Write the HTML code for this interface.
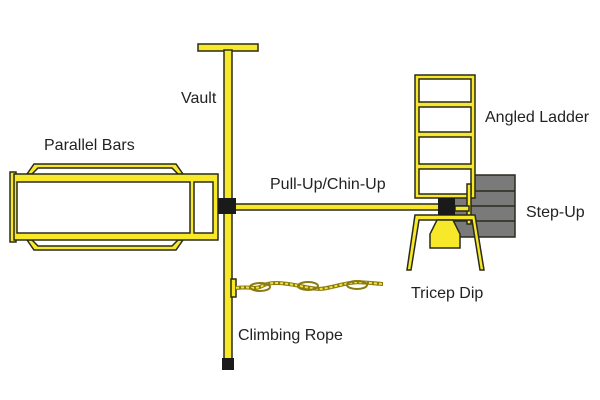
<!DOCTYPE html><html><head><style>body{margin:0;background:#fff}svg{display:block}text{font-family:"Liberation Sans",sans-serif;font-size:16px;fill:#222}</style></head><body>
<svg width="600" height="400" viewBox="0 0 600 400">
<g fill="#f7e92a" stroke="#2a2a1a" stroke-width="1.5">
<polygon points="27,174 34,164 176,164 183,174 178,174 172,168 38,168 32,174"/>
<polygon points="27,240 34,250 176,250 183,240 178,240 172,246 38,246 32,240"/>
<rect x="10" y="172" width="6" height="70"/>
<path d="M14,174 H218 V240 H14 Z M17,182 V233 H190 V182 Z M194,182 V233 H213 V182 Z" fill-rule="evenodd"/>
<rect x="198" y="44" width="60" height="7"/>
<rect x="224" y="50" width="8" height="310"/>
<rect x="234" y="204" width="206" height="6"/>
<rect x="454" y="175" width="61" height="62" fill="#7a7a7a"/>
<line x1="454" y1="191" x2="515" y2="191"/><line x1="454" y1="206" x2="515" y2="206"/><line x1="454" y1="221" x2="515" y2="221"/>
<rect x="417" y="77" width="56" height="119" fill="#fff" stroke="none"/>
<path d="M415,75 H475 V198 H415 Z M419,79 V102 H471 V79 Z M419,107 V132 H471 V107 Z M419,137 V164 H471 V137 Z M419,169 V194 H471 V169 Z" fill-rule="evenodd"/>
<rect x="467" y="184" width="4" height="40"/>
<rect x="455" y="206" width="14" height="5"/>
<polygon points="415,215 475,215 484,270 480,270 472,220 419,220 411,270 407,270"/>
<polygon points="437,220 453,220 460,234 460,248 430,248 430,234"/>
<rect x="231" y="279" width="5" height="18"/>
</g>
<path d="M236,288 C250,286 255,290 262,286 S280,282 300,286 S320,290 340,285 S365,283 383,284" stroke="#8a7a10" stroke-width="4" fill="none"/>
<path d="M236,288 C250,286 255,290 262,286 S280,282 300,286 S320,290 340,285 S365,283 383,284" stroke="#f1e33a" stroke-width="2" fill="none" stroke-dasharray="3 2"/>
<ellipse cx="260" cy="287" rx="10" ry="4" fill="none" stroke="#8a7a10" stroke-width="2"/>
<ellipse cx="308" cy="286" rx="10" ry="4" fill="none" stroke="#8a7a10" stroke-width="2"/>
<ellipse cx="357" cy="285" rx="10" ry="4" fill="none" stroke="#8a7a10" stroke-width="2"/>
<rect x="218" y="198" width="18" height="16" fill="#1a1a1a"/>
<rect x="438" y="198" width="17" height="17" fill="#1a1a1a"/>
<rect x="222" y="358" width="12" height="12" fill="#1a1a1a"/>
<text x="181" y="103">Vault</text>
<text x="44" y="150">Parallel Bars</text>
<text x="485" y="122">Angled Ladder</text>
<text x="270" y="189">Pull-Up/Chin-Up</text>
<text x="526" y="217">Step-Up</text>
<text x="411" y="298">Tricep Dip</text>
<text x="238" y="340">Climbing Rope</text>
</svg></body></html>
